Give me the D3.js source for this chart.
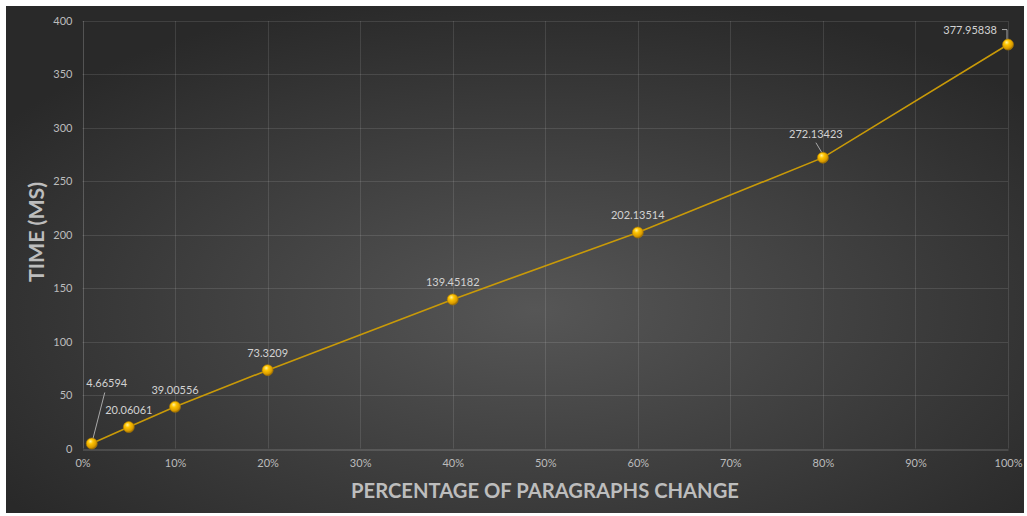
<!DOCTYPE html>
<html>
<head>
<meta charset="utf-8">
<script src="https://cdn.jsdelivr.net/npm/d3@7"></script>
<style>
  html, body { margin: 0; padding: 0; background: #ffffff; }
  svg { display: block; }
  text { font-family: Lato, "Open Sans", sans-serif; }
</style>
</head>
<body>
<svg id="chart" width="1027" height="516"></svg>
<script>
// ---- data ----
const xPercent = [1, 5, 10, 20, 40, 60, 80, 100];
const timeMs = [4.66594, 20.06061, 39.00556, 73.3209, 139.45182, 202.13514, 272.13423, 377.95838];
const valueLabels = ["4.66594", "20.06061", "39.00556", "73.3209", "139.45182", "202.13514", "272.13423", "377.95838"];
const xTicks = [0, 10, 20, 30, 40, 50, 60, 70, 80, 90, 100];
const yTicks = [0, 50, 100, 150, 200, 250, 300, 350, 400];
const xTitle = "PERCENTAGE OF PARAGRAPHS CHANGE";
const yTitle = "TIME (MS)";

// ---- layout (label placement offsets, not data) ----
const labelLayout = [
  {dx: 15, dy: -57, anchor: "middle", leader: [[13, -51], [1, -4]]},
  {dx: 0, dy: -13, anchor: "middle"},
  {dx: 0, dy: -13, anchor: "middle"},
  {dx: 0, dy: -13, anchor: "middle"},
  {dx: 0, dy: -13, anchor: "middle"},
  {dx: 0, dy: -13, anchor: "middle"},
  {dx: -7, dy: -20, anchor: "middle", leader: [[-7, -15], [-1, -5]]},
  {dx: -11, dy: -11, anchor: "end", leader: [[-6, -15], [-1, -15], [-1, -5]]}
];

const svg = d3.select("#chart");
const plot = {left: 82.5, right: 1008, top: 21, bottom: 448.5};

// background
const defs = svg.append("defs");
const bg = defs.append("radialGradient").attr("id", "bgGrad")
  .attr("cx", "52%").attr("cy", "60%").attr("r", "64%");
bg.append("stop").attr("offset", "0%").attr("stop-color", "#565656");
bg.append("stop").attr("offset", "100%").attr("stop-color", "#292929");

const mk = defs.append("radialGradient").attr("id", "mkGrad")
  .attr("cx", "40%").attr("cy", "35%").attr("r", "65%").attr("fx", "38%").attr("fy", "30%");
mk.append("stop").attr("offset", "0%").attr("stop-color", "#fff2a0");
mk.append("stop").attr("offset", "35%").attr("stop-color", "#ffc400");
mk.append("stop").attr("offset", "80%").attr("stop-color", "#d89a00");
mk.append("stop").attr("offset", "100%").attr("stop-color", "#9a6a00");

svg.append("rect").attr("x", 6).attr("y", 6).attr("width", 1018).attr("height", 507)
  .attr("fill", "url(#bgGrad)");

const x = d3.scaleLinear().domain([0, 100]).range([plot.left, plot.right]);
const y = d3.scaleLinear().domain([0, 400]).range([plot.bottom, plot.top]);

// gridlines
const grid = svg.append("g");
grid.selectAll("line.h").data(yTicks.filter(d => d > 0)).join("line")
  .attr("x1", plot.left).attr("x2", plot.right)
  .attr("y1", d => Math.round(y(d)) + 0.5).attr("y2", d => Math.round(y(d)) + 0.5)
  .attr("stroke", "rgba(255,255,255,0.11)").attr("stroke-width", 1);
grid.selectAll("line.v").data(xTicks).join("line")
  .attr("y1", plot.top).attr("y2", plot.bottom)
  .attr("x1", d => Math.round(x(d)) + 0.5).attr("x2", d => Math.round(x(d)) + 0.5)
  .attr("stroke", d => d === 0 ? "rgba(255,255,255,0.2)" : "rgba(255,255,255,0.11)").attr("stroke-width", 1);

// axes
const xAxis = svg.append("g").attr("transform", `translate(0,${Math.round(plot.bottom) + 0.5})`)
  .call(d3.axisBottom(x).tickValues(xTicks).tickFormat(d => d + "%").tickSize(0).tickPadding(10));
xAxis.select(".domain").attr("stroke", "rgba(255,255,255,0.25)").attr("stroke-width", 1.2);
xAxis.selectAll("text").attr("fill", "#bcbcbc").style("font-size", "11px");

const yAxis = svg.append("g").attr("transform", `translate(${plot.left},0)`)
  .call(d3.axisLeft(y).tickValues(yTicks).tickSize(0).tickPadding(10));
yAxis.select(".domain").remove();
yAxis.selectAll("text").attr("fill", "#bcbcbc").style("font-size", "11px");

// line
const pts = xPercent.map((p, i) => ({p, v: timeMs[i], label: valueLabels[i], lay: labelLayout[i]}));
svg.append("path").datum(pts)
  .attr("fill", "none").attr("stroke", "#c99a08").attr("stroke-width", 1.6)
  .attr("d", d3.line().x(d => x(d.p)).y(d => y(d.v)));

// leader lines
svg.append("g").selectAll("polyline").data(pts.filter(d => d.lay.leader)).join("polyline")
  .attr("fill", "none").attr("stroke", "#a8a8a8").attr("stroke-width", 1)
  .attr("points", d => d.lay.leader.map(([dx, dy]) => [x(d.p) + dx, y(d.v) + dy].join(",")).join(" "));

// markers
svg.append("g").selectAll("circle").data(pts).join("circle")
  .attr("cx", d => x(d.p)).attr("cy", d => y(d.v)).attr("r", 5.5)
  .attr("fill", "url(#mkGrad)").attr("stroke", "#b07d00").attr("stroke-width", 0.6);

// data labels
svg.append("g").selectAll("text").data(pts).join("text")
  .attr("x", d => x(d.p) + d.lay.dx).attr("y", d => y(d.v) + d.lay.dy)
  .attr("text-anchor", d => d.lay.anchor)
  .attr("fill", "#d2d2d2").style("font-size", "11px")
  .text(d => d.label);

// axis titles
svg.append("text").attr("x", 545).attr("y", 498).attr("text-anchor", "middle")
  .attr("fill", "#bdbdbd").style("font-size", "20px").style("font-weight", "bold")
  .attr("textLength", 388).attr("lengthAdjust", "spacingAndGlyphs")
  .text(xTitle);
svg.append("text").attr("transform", "translate(44,232) rotate(-90)").attr("text-anchor", "middle")
  .attr("fill", "#bdbdbd").style("font-size", "20px").style("font-weight", "bold")
  .attr("textLength", 100).attr("lengthAdjust", "spacingAndGlyphs")
  .text(yTitle);
</script>
</body>
</html>
